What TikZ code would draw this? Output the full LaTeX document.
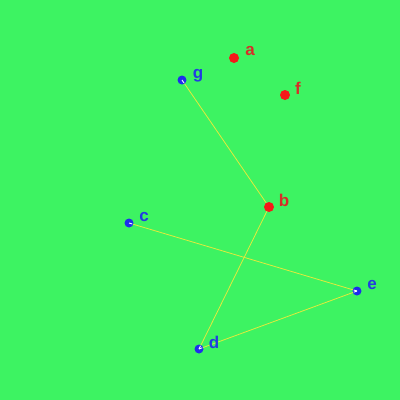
\documentclass[tikz,border=0pt]{standalone}
\usepackage{fontspec}
\setmainfont{Liberation Sans}
\usetikzlibrary{calc}
\definecolor{bg}{RGB}{61,243,98}
\definecolor{rdot}{RGB}{245,25,25}
\definecolor{bdot}{RGB}{30,45,235}
\definecolor{rlab}{RGB}{215,45,40}
\definecolor{blab}{RGB}{35,60,225}
\definecolor{edge}{RGB}{225,235,60}
\tikzset{
  rnode/.style={circle,fill=rdot,inner sep=0pt,minimum size=10pt},
  bnode/.style={circle,fill=bdot,inner sep=0pt,minimum size=9pt},
  rl/.style={text=rlab,font=\bfseries\fontsize{17}{17}\selectfont,inner sep=0pt},
  bl/.style={text=blab,font=\bfseries\fontsize{17}{17}\selectfont,inner sep=0pt},
  edgeline/.style={draw=edge,line width=0.8pt},
  tip/.style={draw=white,line width=0.9pt}
}
\begin{document}
\begin{tikzpicture}[x=1pt,y=-1pt]
\fill[bg] (0,0) rectangle (400,400);
\useasboundingbox (0,0) rectangle (400,400);
\coordinate (a) at (234,58);
\coordinate (g) at (182,80);
\coordinate (f) at (285,95);
\coordinate (b) at (269,207);
\coordinate (c) at (129,223);
\coordinate (e) at (357,291);
\coordinate (d) at (199,349);
\draw[edgeline] (g) -- (b);
\draw[edgeline] (b) -- (d);
\draw[edgeline] (c) -- (e);
\draw[edgeline] (e) -- (d);
\node[rnode] (na) at (a) {};
\node[rnode] (nf) at (f) {};
\node[rnode] (nb) at (b) {};
\node[bnode] (ng) at (g) {};
\node[bnode] (nc) at (c) {};
\node[bnode] (ne) at (e) {};
\node[bnode] (nd) at (d) {};
\draw[tip] (g) -- ($(g)!3.5pt!(b)$);
\draw[tip] (d) -- ($(d)!3.5pt!(b)$);
\draw[tip] (c) -- ($(c)!3.5pt!(e)$);
\draw[tip] (e) -- ($(e)!3.5pt!(c)$);
\draw[tip] (e) -- ($(e)!3.5pt!(d)$);
\draw[tip] (d) -- ($(d)!3.5pt!(e)$);
\node[rl] (la) at (250,51) {a};
\node[bl] (lg) at (198,76) {g};
\node[rl] (lf) at (298,88) {f};
\node[rl] (lb) at (284,200) {b};
\node[bl] (lc) at (144,217) {c};
\node[bl] (le) at (372,285) {e};
\node[bl] (ld) at (214,342) {d};
\end{tikzpicture}
\end{document}
